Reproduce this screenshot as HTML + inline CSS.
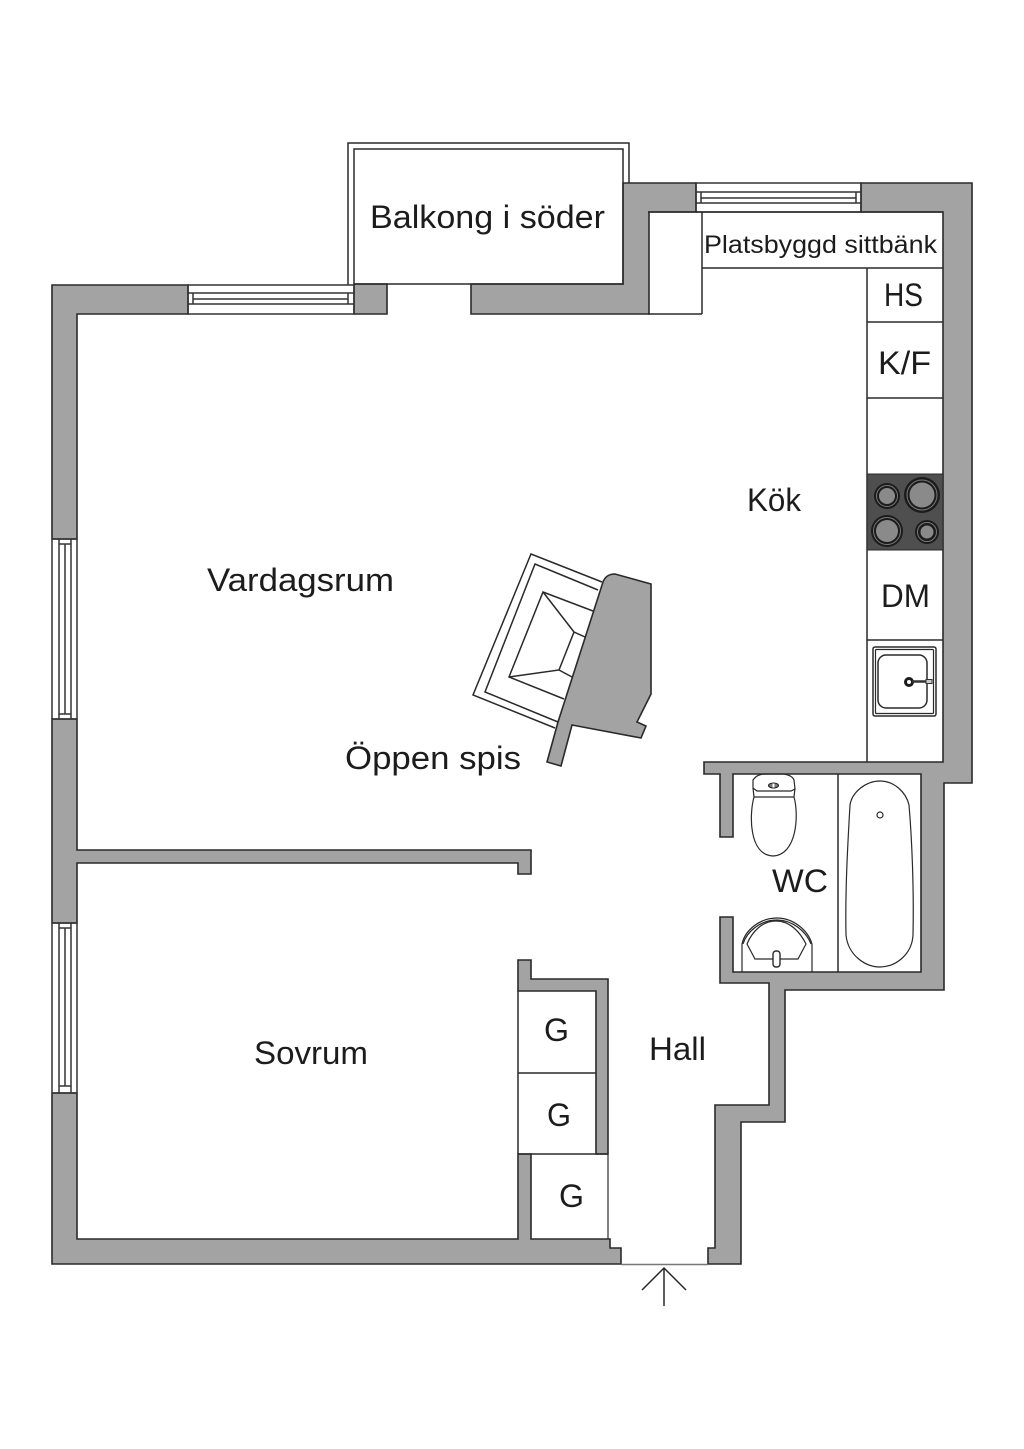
<!DOCTYPE html>
<html lang="sv">
<head>
<meta charset="utf-8">
<title>Planritning</title>
<style>
html,body{margin:0;padding:0;background:#fff}
svg{display:block}
text{font-family:"Liberation Sans",sans-serif;fill:#1c1c1c;font-size:32px}
.w{fill:#a3a3a3;stroke:#2a2a2a;stroke-width:1.6;stroke-linejoin:miter}
.l{fill:none;stroke:#2a2a2a;stroke-width:1.5}
.f{fill:#fff;stroke:#2a2a2a;stroke-width:1.4}
.t{fill:none;stroke:#2a2a2a;stroke-width:1.2}
.g{fill:none;stroke:#333;stroke-width:1.5}
</style>
</head>
<body>
<svg xmlns="http://www.w3.org/2000/svg" width="1024" height="1449" viewBox="0 0 1024 1449">
<rect width="1024" height="1449" fill="#fff"/>

<!-- Walls -->
<polygon class="w" points="52,285 188,285 188,314 77,314 77,539 52,539"/>
<polygon class="w" points="52,719 77,719 77,850 531,850 531,874 518,874 518,863 77,863 77,923 52,923"/>
<polygon class="w" points="52,1093 77,1093 77,1239 518,1239 518,1154 531,1154 531,1239 610,1239 610,1248 621,1248 621,1264 52,1264"/>
<polygon class="w" points="354,284 387,284 387,314 354,314"/>
<polygon class="w" points="471,284 623,284 623,183 696,183 696,212 649,212 649,314 471,314"/>
<polygon class="w" points="518,960 531,960 531,979 608,979 608,1154 596,1154 596,991 518,991"/>
<polygon class="w" points="861,183 972,183 972,783 944,783 944,990 785,990 785,1122 741,1122 741,1264 708,1264 708,1248 715,1248 715,1105 769,1105 769,983 720,983 720,917 733,917 733,972 921,972 921,774 733,774 733,837 720,837 720,774 704,774 704,762 943,762 943,212 861,212"/>

<!-- Balcony -->
<path class="l" d="M348,285V143H629V183"/>
<path class="l" d="M354,285V149H623V284H354"/>

<!-- Windows -->
<g class="g">
<rect x="188" y="285" width="166" height="29"/>
<path d="M188,293H354M188,304H354M193,299H348M193,293V304M348,293V304"/>
<rect x="696" y="183" width="165" height="29"/>
<path d="M696,192H861M696,203H861M701,198H856M701,192V203M856,192V203"/>
<path d="M52,539V719M77,539V719M52,539H77M52,719H77"/>
<path d="M59,539V719M71,539V719M65,544V714M59,544H71M59,714H71"/>
<path d="M52,923V1093M77,923V1093M52,923H77M52,1093H77"/>
<path d="M59,923V1093M71,923V1093M65,928V1086M59,928H71M59,1086H71"/>
</g>

<!-- Kitchen -->
<path class="l" d="M648,212H943M702,212V314M648,314H702M702,268H943M867,268V762M867,322H943M867,398H943M867,640H943"/>
<rect x="867" y="474" width="76" height="76" fill="#4f4f4f" stroke="#2a2a2a"/>
<g fill="#1c1c1c">
<circle cx="887" cy="496" r="13"/>
<circle cx="922" cy="495" r="18"/>
<circle cx="887" cy="531" r="16"/>
<circle cx="927" cy="532" r="12"/>
</g>
<g fill="none" stroke="#777" stroke-width="1">
<circle cx="887" cy="496" r="10.500"/>
<circle cx="922" cy="495" r="15"/>
<circle cx="887" cy="531" r="13.500"/>
<circle cx="927" cy="532" r="9.500"/>
</g>
<g fill="#8a8a8a">
<circle cx="887" cy="496" r="8"/>
<circle cx="922" cy="495" r="12.500"/>
<circle cx="887" cy="531" r="11"/>
<circle cx="927" cy="532" r="6.500"/>
</g>
<rect class="l" x="873" y="647" width="63" height="69" rx="2"/>
<rect class="t" x="875.5" y="649.5" width="58" height="64" rx="1"/>
<rect class="l" x="878" y="655" width="49" height="53" rx="8"/>
<circle cx="909" cy="682" r="3.5" fill="#fff" stroke="#1c1c1c" stroke-width="3"/>
<path d="M912,681.500H926" stroke="#333" stroke-width="2.500"/>
<rect x="926" y="679.500" width="6" height="4" fill="#ccc" stroke="#333" stroke-width="1"/>

<!-- Fireplace -->
<path class="l" d="M602,582L531,554L473,695L555,728"/>
<path class="l" d="M598,590L535,564L485,692L558,722"/>
<path class="l" d="M593,611L543,592L509,677L564,699"/>
<path class="l" d="M543,592L574,632L585,637M574,632L559,670L509,677M559,670L572,677"/>
<path class="w" d="M603,582Q606,574 615,574L651,584V694L637,722L646,726L641,738L572,725L561,766L547,762L558,722Z"/>

<!-- WC -->
<path class="l" d="M838,774V972"/>
<path class="t" d="M753,780Q757,774 765,774H783Q792,775 794,780L795,789L791,791H757L753,788Z"/>
<path class="t" d="M753,788L754,797H794L795,788"/>
<path class="t" d="M754,797C749,815 749,855 773,856C797,855 799,815 794,797"/>
<ellipse cx="773.500" cy="785.500" rx="5" ry="2.500" fill="#777" stroke="#1c1c1c"/>
<rect x="772.500" y="783.500" width="2" height="4" fill="#fff"/>
<path class="t" d="M742,972V944C745,930 760,918 777,918C793,918 808,930 812,944V972"/>
<path class="t" d="M743,944C747,931 761,920 777,920C792,920 806,931 811,944"/>
<path class="t" d="M747,944L755,959H798L806,944C800,932 790,921 776,921C762,921 752,932 747,944Z"/>
<rect class="f" x="773" y="951" width="7" height="16" rx="3"/>
<path class="t" d="M850,805C852,792 866,781 880,781C894,781 906,792 909,805C912,840 914,890 913,935C912,955 895,967 880,967C865,967 848,955 846,935C845,890 848,840 850,805Z"/>
<circle cx="880" cy="815" r="3" fill="#fff" stroke="#2a2a2a" stroke-width="1.200"/>

<!-- Closets -->
<path class="l" d="M518,991V1154M518,1073H596M518,1154H608"/>
<path class="t" d="M608,1154V1239"/>

<!-- Entrance -->
<path d="M621,1264.500H708" stroke="#777" stroke-width="1.500"/>
<path d="M664,1306V1268M642,1290L664,1268L686,1290" fill="none" stroke="#2a2a2a" stroke-width="1.500"/>

<!-- Labels -->
<text x="370" y="228" textLength="235" lengthAdjust="spacingAndGlyphs">Balkong i söder</text>
<text x="704" y="253" style="font-size:25px" textLength="233" lengthAdjust="spacingAndGlyphs">Platsbyggd sittbänk</text>
<text x="884" y="306" textLength="39" lengthAdjust="spacingAndGlyphs">HS</text>
<text x="878" y="374" textLength="53" lengthAdjust="spacingAndGlyphs">K/F</text>
<text x="747" y="511" textLength="54" lengthAdjust="spacingAndGlyphs">Kök</text>
<text x="881" y="607" textLength="49" lengthAdjust="spacingAndGlyphs">DM</text>
<text x="207" y="591" textLength="187" lengthAdjust="spacingAndGlyphs">Vardagsrum</text>
<text x="345" y="769" textLength="176" lengthAdjust="spacingAndGlyphs">Öppen spis</text>
<text x="772" y="892" textLength="56" lengthAdjust="spacingAndGlyphs">WC</text>
<text x="254" y="1064" textLength="114" lengthAdjust="spacingAndGlyphs">Sovrum</text>
<text x="649" y="1060" textLength="57" lengthAdjust="spacingAndGlyphs">Hall</text>
<text x="544" y="1041" textLength="25" lengthAdjust="spacingAndGlyphs">G</text>
<text x="547" y="1126" textLength="24" lengthAdjust="spacingAndGlyphs">G</text>
<text x="559" y="1207" textLength="25" lengthAdjust="spacingAndGlyphs">G</text>
</svg>
</body>
</html>
